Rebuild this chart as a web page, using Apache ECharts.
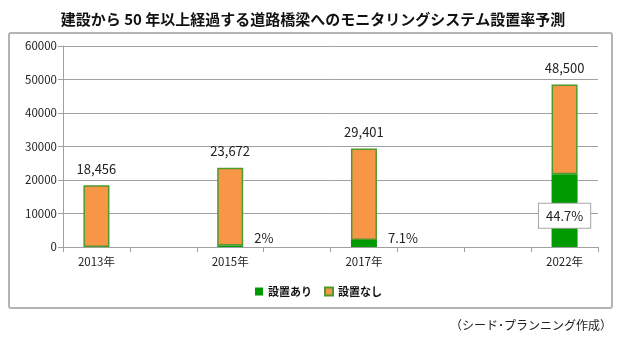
<!DOCTYPE html>
<html><head><meta charset="utf-8">
<script src="https://cdn.jsdelivr.net/npm/echarts@6/dist/echarts.min.js"></script>
<style>html,body{margin:0;padding:0;background:#fff}#c{width:626px;height:340px}</style>
</head><body><div id="c"></div>
<script>
const titleText = '建設から 50 年以上経過する道路橋梁へのモニタリングシステム設置率予測';
const categories = ['2013年', '', '2015年', '', '2017年', '', '', '2022年'];
const totals = [18456, null, 23672, null, 29401, null, null, 48500];
const rates = [null, null, 2, null, 7.1, null, null, 44.7]; // % installed
const rateLabels = ['', '', '2%', '', '7.1%', '', '', '44.7%'];
const seriesNames = ['設置あり', '設置なし'];
const yTicks = [0, 10000, 20000, 30000, 40000, 50000, 60000];
const note = '（シード･プランニング作成）';

const FONT = "'Noto Sans CJK JP', sans-serif";
const installed = totals.map((t, i) => t == null ? null : (rates[i] == null ? 0 : Math.round(t * rates[i] / 100)));
const notInstalled = totals.map((t, i) => t == null ? null : t - installed[i]);

const greenData = installed.map((v, i) => {
  if (v == null) return null;
  const lab = rateLabels[i];
  if (!lab) return { value: v, label: { show: false } };
  if (i === 7) {
    return { value: v, label: { show: true, position: 'inside', offset: [0, 5], formatter: lab,
      backgroundColor: '#fff', borderColor: '#a6a6a6', borderWidth: 1, padding: [6, 7, 5, 7],
      color: '#222', fontSize: 13, fontFamily: FONT } };
  }
  return { value: v, label: { show: true, position: 'right', offset: [6, i === 2 ? -8 : -5], formatter: lab,
    color: '#222', fontSize: 13, fontFamily: FONT } };
});
const orangeData = notInstalled.map((v, i) => v == null ? null : { value: v });

const chart = echarts.init(document.getElementById('c'), null, { renderer: 'canvas' });
chart.setOption({
  animation: false,
  textStyle: { fontFamily: FONT },
  title: { text: titleText, left: 'center', top: 7,
    textStyle: { fontSize: 15, fontWeight: 'bold', color: '#111', fontFamily: FONT } },
  graphic: [
    { type: 'rect', shape: { x: 9, y: 33, width: 603, height: 275, r: 2 }, style: { fill: 'none', stroke: '#b4b4b4', lineWidth: 2 }, z: -1 },
    { type: 'text', right: 14, top: 319, style: { text: note, fontSize: 12, fill: '#222', fontFamily: FONT } }
  ],
  legend: { data: seriesNames, left: 250, top: 281, itemWidth: 8, itemHeight: 8, itemGap: 12,
    icon: 'rect', textStyle: { fontSize: 11, fontWeight: 'bold', color: '#111', fontFamily: FONT } },
  grid: { left: 63, right: 28, top: 46, bottom: 93 },
  xAxis: { type: 'category', data: categories, boundaryGap: true,
    axisLine: { lineStyle: { color: '#a0a0a0', width: 1 } },
    axisTick: { show: true, length: 5, interval: 0, lineStyle: { color: '#a0a0a0' } },
    axisLabel: { interval: 0, color: '#222', fontSize: 11.5, margin: 9, fontFamily: FONT } },
  yAxis: { type: 'value', min: yTicks[0], max: yTicks[yTicks.length - 1], interval: 10000,
    axisLine: { show: true, lineStyle: { color: '#a0a0a0' } },
    axisTick: { show: true, length: 5, lineStyle: { color: '#a0a0a0' } },
    splitLine: { lineStyle: { color: '#a0a0a0', width: 1 } },
    axisLabel: { color: '#222', fontSize: 11.5, margin: 6, fontFamily: FONT, formatter: v => String(v) } },
  series: [
    { name: seriesNames[0], type: 'bar', stack: 't', barWidth: 26, data: greenData,
      itemStyle: { color: '#009900', borderColor: '#3f9a20', borderWidth: 0 } },
    { name: seriesNames[1], type: 'bar', stack: 't', barWidth: 26, data: orangeData,
      itemStyle: { color: '#F79646', borderColor: '#4f9a2a', borderWidth: 1.5 },
      label: { show: true, position: 'top', distance: 10, color: '#222', fontSize: 13, fontFamily: FONT,
        formatter: p => totals[p.dataIndex] == null ? '' : totals[p.dataIndex].toLocaleString('en-US') } }
  ]
});
</script></body></html>
